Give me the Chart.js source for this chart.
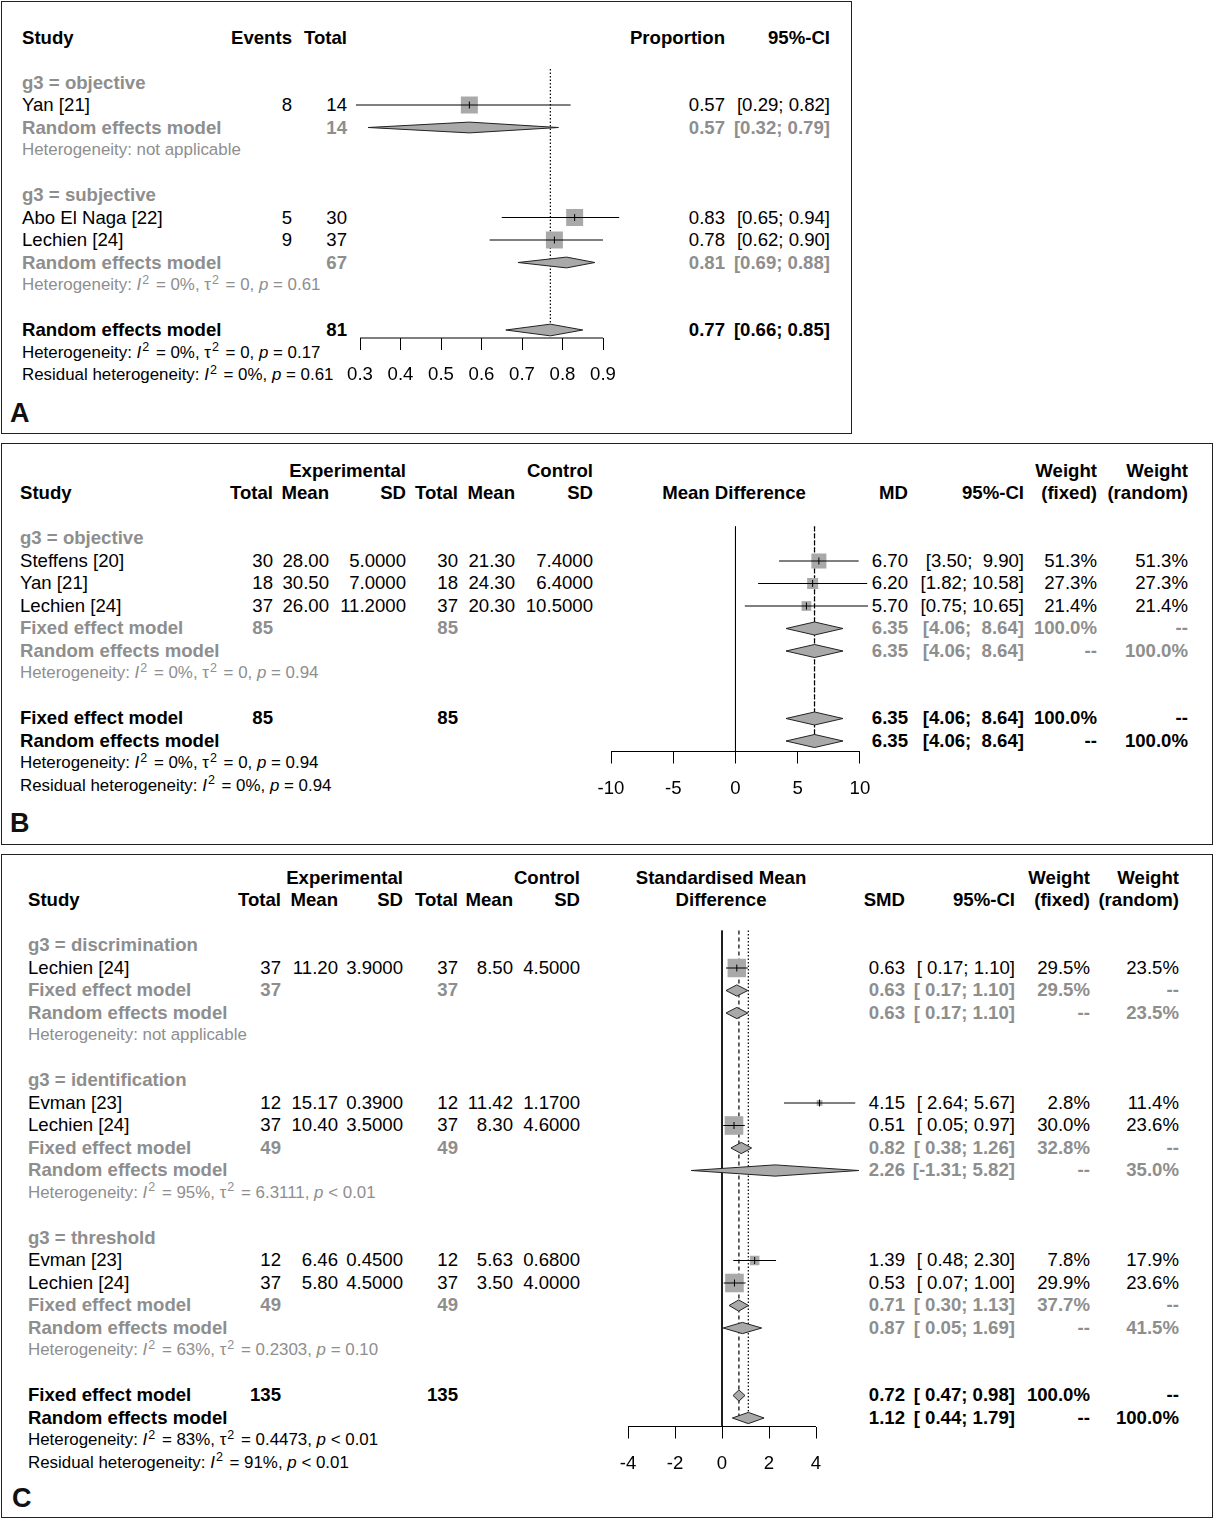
<!DOCTYPE html>
<html>
<head>
<meta charset="utf-8">
<title>Forest plots</title>
<script src="https://cdn.jsdelivr.net/npm/chart.js@4.4.1/dist/chart.umd.min.js"></script>
<style>
  html, body { margin: 0; padding: 0; background: #fff; }
  body { position: relative; width: 1213px; height: 1520px; overflow: hidden;
         font-family: 'Liberation Sans', Arial, Helvetica, sans-serif; }
  .box { position: absolute; border: 1px solid #222; box-sizing: border-box; }
  .t { position: absolute; white-space: pre; line-height: 1; font-size: 18.6px; color: #000; }
  .b { font-weight: bold; }
  .g { color: #8e8e8e; }
  .h { font-size: 16.9px; }
  .t sup { font-size: 0.74em; position: relative; top: -0.5em; vertical-align: baseline; line-height: 0; margin: 0 2px 0 1px; }
  .letter { font-size: 27px; font-weight: bold; color: #111; }
  .plot { position: absolute; }
</style>
</head>
<body>
<div class="box" style="left:1px; top:1px; width:851px; height:433px"></div>
<div class="box" style="left:1px; top:443px; width:1212px; height:402px"></div>
<div class="box" style="left:1px; top:854px; width:1212px; height:664px"></div>
<script>
// ---------- Panel A: proportions
const aGroups = ['objective', 'subjective'];
const aStudies = ['Yan [21]', 'Abo El Naga [22]', 'Lechien [24]'];
const aStudyGroup = [0, 1, 1];
const aEvents = [8, 5, 9];
const aTotals = [14, 30, 37];
const aProp = [0.57, 0.83, 0.78];
const aLower = [0.29, 0.65, 0.62];
const aUpper = [0.82, 0.94, 0.90];
const aSubTotals = [14, 67];
const aSubRandom = [[0.57, 0.32, 0.79], [0.81, 0.69, 0.88]];   // estimate, lower, upper
const aSubHet = [null, { i2: '0%', tau2: '0', p: '= 0.61' }];
const aOverallTotal = 81;
const aOverallRandom = [0.77, 0.66, 0.85];
const aOverallHet = { i2: '0%', tau2: '0', p: '= 0.17' };
const aResidualHet = { i2: '0%', p: '= 0.61' };
const aTicks = [0.3, 0.4, 0.5, 0.6, 0.7, 0.8, 0.9];
const aTickLabels = ['0.3', '0.4', '0.5', '0.6', '0.7', '0.8', '0.9'];

// ---------- Panel B: mean difference
const bGroups = ['objective'];
const bStudies = ['Steffens [20]', 'Yan [21]', 'Lechien [24]'];
const bStudyGroup = [0, 0, 0];
const bExpTotal = [30, 18, 37];
const bExpMean = [28.00, 30.50, 26.00];
const bExpSD = [5.0, 7.0, 11.2];
const bCtlTotal = [30, 18, 37];
const bCtlMean = [21.30, 24.30, 20.30];
const bCtlSD = [7.4, 6.4, 10.5];
const bEst = [6.70, 6.20, 5.70];
const bLower = [3.50, 1.82, 0.75];
const bUpper = [9.90, 10.58, 10.65];
const bWFixed = [51.3, 27.3, 21.4];
const bWRandom = [51.3, 27.3, 21.4];
const bSubTotals = [[85, 85]];
const bSubFixed = [[6.35, 4.06, 8.64, 100.0]];    // estimate, lower, upper, weight
const bSubRandom = [[6.35, 4.06, 8.64, 100.0]];
const bSubHet = [{ i2: '0%', tau2: '0', p: '= 0.94' }];
const bOverallTotals = [85, 85];
const bOverallFixed = [6.35, 4.06, 8.64, 100.0];
const bOverallRandom = [6.35, 4.06, 8.64, 100.0];
const bOverallHet = { i2: '0%', tau2: '0', p: '= 0.94' };
const bResidualHet = { i2: '0%', p: '= 0.94' };
const bTicks = [-10, -5, 0, 5, 10];
const bTickLabels = ['-10', '-5', '0', '5', '10'];

// ---------- Panel C: standardised mean difference
const cGroups = ['discrimination', 'identification', 'threshold'];
const cStudies = ['Lechien [24]', 'Evman [23]', 'Lechien [24]', 'Evman [23]', 'Lechien [24]'];
const cStudyGroup = [0, 1, 1, 2, 2];
const cExpTotal = [37, 12, 37, 12, 37];
const cExpMean = [11.20, 15.17, 10.40, 6.46, 5.80];
const cExpSD = [3.9, 0.39, 3.5, 0.45, 4.5];
const cCtlTotal = [37, 12, 37, 12, 37];
const cCtlMean = [8.50, 11.42, 8.30, 5.63, 3.50];
const cCtlSD = [4.5, 1.17, 4.6, 0.68, 4.0];
const cEst = [0.63, 4.15, 0.51, 1.39, 0.53];
const cLower = [0.17, 2.64, 0.05, 0.48, 0.07];
const cUpper = [1.10, 5.67, 0.97, 2.30, 1.00];
const cWFixed = [29.5, 2.8, 30.0, 7.8, 29.9];
const cWRandom = [23.5, 11.4, 23.6, 17.9, 23.6];
const cSubTotals = [[37, 37], [49, 49], [49, 49]];
const cSubFixed = [[0.63, 0.17, 1.10, 29.5], [0.82, 0.38, 1.26, 32.8], [0.71, 0.30, 1.13, 37.7]];
const cSubRandom = [[0.63, 0.17, 1.10, 23.5], [2.26, -1.31, 5.82, 35.0], [0.87, 0.05, 1.69, 41.5]];
const cSubHet = [null, { i2: '95%', tau2: '6.3111', p: '< 0.01' }, { i2: '63%', tau2: '0.2303', p: '= 0.10' }];
const cOverallTotals = [135, 135];
const cOverallFixed = [0.72, 0.47, 0.98, 100.0];
const cOverallRandom = [1.12, 0.44, 1.79, 100.0];
const cOverallHet = { i2: '83%', tau2: '0.4473', p: '< 0.01' };
const cResidualHet = { i2: '91%', p: '< 0.01' };
const cTicks = [-4, -2, 0, 2, 4];
const cTickLabels = ['-4', '-2', '0', '2', '4'];

const ROW = 22.5;
const INK = '#000';
const GREY = '#a9a9a9';

Chart.defaults.font.family = "'Liberation Sans', Arial, sans-serif";
Chart.defaults.font.size = 18.6;
Chart.defaults.color = INK;

// text helper, align: l / r / c
function put(x, y, html, cls, align) {
  const d = document.createElement('div');
  d.className = 't ' + (cls || '');
  d.innerHTML = String(html);
  d.style.left = x + 'px';
  d.style.top = y + 'px';
  const tx = align === 'r' ? '-100%' : align === 'c' ? '-50%' : '0';
  d.style.transform = 'translate(' + tx + ', -50%)';
  document.body.appendChild(d);
}

function hetHtml(h, prefix) {
  if (!h) return 'Heterogeneity: not applicable';
  let s = (prefix || 'Heterogeneity') + ': <i>I</i><sup>2</sup> = ' + h.i2;
  if (h.tau2 !== undefined) s += ', \u03c4<sup>2</sup> = ' + h.tau2;
  return s + ', <i>p</i> ' + h.p;
}

function ciFormatter(los, his) {
  const wl = Math.max(...los.map(v => v.toFixed(2).length));
  const wh = Math.max(...his.map(v => v.toFixed(2).length));
  return (lo, hi) => '[' + lo.toFixed(2).padStart(wl) + '; ' + hi.toFixed(2).padStart(wh) + ']';
}
const pct = w => w.toFixed(1) + '%';

function layoutRows(nGroups, groupOf, nPool) {
  const L = { head: [], study: [], pool: [], het: [], all: [] };
  let r = 0;
  for (let g = 0; g < nGroups; g++) {
    L.head[g] = r++;
    groupOf.forEach((sg, i) => { if (sg === g) L.study[i] = r++; });
    L.pool[g] = [];
    for (let k = 0; k < nPool; k++) L.pool[g].push(r++);
    L.het[g] = r++;
    r++;
  }
  for (let k = 0; k < nPool; k++) L.all.push(r++);
  L.allHet = r++;
  L.resid = r++;
  return L;
}

// ---- dataset builders
function vline(x, r0, r1, dash, width) {
  return { data: [{ x: x, y: r0 }, { x: x, y: r1 }], borderColor: INK, borderWidth: width || 1,
           borderDash: dash, pointRadius: 0, clip: false, order: 9 };
}
function hline(x0, x1, r) {
  return { data: [{ x: x0, y: r }, { x: x1, y: r }], borderColor: INK, borderWidth: 1,
           pointRadius: 0, clip: false, order: 2 };
}
function squares(xs, rows, sides) {
  return { data: xs.map((x, i) => ({ x: x, y: rows[i] })), showLine: false, pointStyle: 'rect',
           pointRadius: sides.map(s => s / Math.SQRT2), pointBackgroundColor: GREY,
           pointBorderWidth: 0, clip: false, order: 3 };
}
function marks(xs, rows) {
  return { data: xs.map((x, i) => ({ x: x, y: rows[i] })), showLine: false, pointStyle: 'line',
           pointRotation: 90, pointRadius: 3.5, pointBorderColor: INK, pointBorderWidth: 1,
           clip: false, order: 1 };
}
function diamond(est, lo, hi, r, hh) {
  return { data: [{ x: lo, y: r }, { x: est, y: r - hh }, { x: hi, y: r }, { x: est, y: r + hh }, { x: lo, y: r }],
           fill: 'shape', backgroundColor: GREY, borderColor: '#222', borderWidth: 1,
           pointRadius: 0, clip: false, order: 2 };
}

// one chart per panel, chart area placed on the page in pixels
function forestChart(spec) {
  const pad = 40, axisH = 50;
  const w = (spec.xMax - spec.xMin) * spec.ppu;
  const h = (spec.rAxis + 1) * ROW;
  const wrap = document.createElement('div');
  wrap.className = 'plot';
  wrap.style.left = (spec.x0 - pad) + 'px';
  wrap.style.top = (spec.y0 - ROW) + 'px';
  wrap.style.width = (w + 2 * pad) + 'px';
  wrap.style.height = (h + axisH) + 'px';
  const cv = document.createElement('canvas');
  wrap.appendChild(cv);
  document.body.appendChild(wrap);
  spec.datasets.push(hline(spec.ticks[0], spec.ticks[spec.ticks.length - 1], spec.rAxis));
  return new Chart(cv, {
    type: 'line',
    data: { datasets: spec.datasets },
    options: {
      responsive: true,
      maintainAspectRatio: false,
      animation: false,
      events: [],
      layout: { autoPadding: false, padding: { left: pad, right: pad, top: 0, bottom: 0 } },
      plugins: { legend: { display: false }, tooltip: { enabled: false } },
      scales: {
        x: {
          type: 'linear', min: spec.xMin, max: spec.xMax,
          border: { display: false },
          grid: { drawOnChartArea: false, drawTicks: true, tickLength: 12, color: INK, lineWidth: 1 },
          ticks: { padding: 14, maxRotation: 0, autoSkip: false, color: INK,
                   callback: (v, i) => spec.tickLabels[i] },
          afterBuildTicks: s => { s.ticks = spec.ticks.map(v => ({ value: v })); },
          afterFit: s => { s.height = axisH; }
        },
        y: { type: 'linear', display: false, reverse: true, min: -1, max: spec.rAxis }
      }
    }
  });
}

// ---------- draw panel A
(function () {
  const y0 = 82.5, lx = 22;
  const y = r => y0 + ROW * r;
  const L = layoutRows(aGroups.length, aStudyGroup, 1);
  const col = { ev: 292, tot: 347, est: 725, ci: 830 };
  const ci = ciFormatter(aLower.concat(aSubRandom.map(s => s[1]), [aOverallRandom[1]]),
                         aUpper.concat(aSubRandom.map(s => s[2]), [aOverallRandom[2]]));
  put(lx, y(-2), 'Study', 'b');
  put(col.ev, y(-2), 'Events', 'b', 'r');
  put(col.tot, y(-2), 'Total', 'b', 'r');
  put(col.est, y(-2), 'Proportion', 'b', 'r');
  put(col.ci, y(-2), '95%-CI', 'b', 'r');

  aStudies.forEach((s, i) => {
    const r = L.study[i];
    put(lx, y(r), s);
    put(col.ev, y(r), aEvents[i], '', 'r');
    put(col.tot, y(r), aTotals[i], '', 'r');
    put(col.est, y(r), aProp[i].toFixed(2), '', 'r');
    put(col.ci, y(r), ci(aLower[i], aUpper[i]), '', 'r');
  });
  aGroups.forEach((g, gi) => {
    const r = L.pool[gi][0];
    put(lx, y(L.head[gi]), 'g3 = ' + g, 'b g');
    put(lx, y(r), 'Random effects model', 'b g');
    put(col.tot, y(r), aSubTotals[gi], 'b g', 'r');
    put(col.est, y(r), aSubRandom[gi][0].toFixed(2), 'b g', 'r');
    put(col.ci, y(r), ci(aSubRandom[gi][1], aSubRandom[gi][2]), 'b g', 'r');
    put(lx, y(L.het[gi]), hetHtml(aSubHet[gi]), 'h g');
  });
  const ra = L.all[0];
  put(lx, y(ra), 'Random effects model', 'b');
  put(col.tot, y(ra), aOverallTotal, 'b', 'r');
  put(col.est, y(ra), aOverallRandom[0].toFixed(2), 'b', 'r');
  put(col.ci, y(ra), ci(aOverallRandom[1], aOverallRandom[2]), 'b', 'r');
  put(lx, y(L.allHet), hetHtml(aOverallHet), 'h');
  put(lx, y(L.resid), hetHtml(aResidualHet, 'Residual heterogeneity'), 'h');
  put(10, 413, 'A', 'letter');

  const rAxis = (338 - y0) / ROW;
  const ds = [];
  ds.push(vline(aOverallRandom[0], -0.6, ra, [1.5, 2], 1.2));
  ds.push(squares(aProp, L.study, aProp.map(() => 17)));
  aProp.forEach((e, i) => ds.push(hline(aLower[i], aUpper[i], L.study[i])));
  ds.push(marks(aProp, L.study));
  aSubRandom.forEach((s, gi) => ds.push(diamond(s[0], s[1], s[2], L.pool[gi][0], 0.24)));
  ds.push(diamond(aOverallRandom[0], aOverallRandom[1], aOverallRandom[2], ra, 0.26));
  forestChart({ x0: 360, ppu: 405, xMin: 0.3, xMax: 0.96, y0: y0, rAxis: rAxis,
                ticks: aTicks, tickLabels: aTickLabels, datasets: ds });
})();

// ---------- panels B and C share the same layout
function contPanel(d, P) {
  const y = r => P.y0 + ROW * r;
  const L = layoutRows(d.groups.length, d.studyGroup, 2);
  const c = P.cols;
  const lx = P.lx;
  const ci = ciFormatter(
    d.lower.concat(d.subFixed.map(s => s[1]), d.subRandom.map(s => s[1]), [d.allFixed[1], d.allRandom[1]]),
    d.upper.concat(d.subFixed.map(s => s[2]), d.subRandom.map(s => s[2]), [d.allFixed[2], d.allRandom[2]]));

  put(c[2], y(-3), 'Experimental', 'b', 'r');
  put(c[5], y(-3), 'Control', 'b', 'r');
  put(c[8], y(-3), 'Weight', 'b', 'r');
  put(c[9], y(-3), 'Weight', 'b', 'r');
  put(lx, y(-2), 'Study', 'b');
  ['Total', 'Mean', 'SD', 'Total', 'Mean', 'SD'].forEach((h, i) => put(c[i], y(-2), h, 'b', 'r'));
  P.title.forEach((t, i) => put(P.titleX, y(-1 - P.title.length + i), t, 'b', 'c'));
  put(c[6], y(-2), d.estName, 'b', 'r');
  put(c[7], y(-2), '95%-CI', 'b', 'r');
  put(c[8], y(-2), '(fixed)', 'b', 'r');
  put(c[9], y(-2), '(random)', 'b', 'r');

  d.studies.forEach((s, i) => {
    const r = L.study[i];
    put(lx, y(r), s);
    put(c[0], y(r), d.expN[i], '', 'r');
    put(c[1], y(r), d.expMean[i].toFixed(2), '', 'r');
    put(c[2], y(r), d.expSD[i].toFixed(4), '', 'r');
    put(c[3], y(r), d.ctlN[i], '', 'r');
    put(c[4], y(r), d.ctlMean[i].toFixed(2), '', 'r');
    put(c[5], y(r), d.ctlSD[i].toFixed(4), '', 'r');
    put(c[6], y(r), d.est[i].toFixed(2), '', 'r');
    put(c[7], y(r), ci(d.lower[i], d.upper[i]), '', 'r');
    put(c[8], y(r), pct(d.wFixed[i]), '', 'r');
    put(c[9], y(r), pct(d.wRandom[i]), '', 'r');
  });

  function pooledRow(r, name, totals, v, fixed, cls) {
    put(lx, y(r), name, cls);
    if (totals) {
      put(c[0], y(r), totals[0], cls, 'r');
      put(c[3], y(r), totals[1], cls, 'r');
    }
    put(c[6], y(r), v[0].toFixed(2), cls, 'r');
    put(c[7], y(r), ci(v[1], v[2]), cls, 'r');
    put(c[8], y(r), fixed ? pct(v[3]) : '--', cls, 'r');
    put(c[9], y(r), fixed ? '--' : pct(v[3]), cls, 'r');
  }
  d.groups.forEach((g, gi) => {
    put(lx, y(L.head[gi]), 'g3 = ' + g, 'b g');
    pooledRow(L.pool[gi][0], 'Fixed effect model', d.subTotals[gi], d.subFixed[gi], true, 'b g');
    pooledRow(L.pool[gi][1], 'Random effects model', null, d.subRandom[gi], false, 'b g');
    put(lx, y(L.het[gi]), hetHtml(d.subHet[gi]), 'h g');
  });
  pooledRow(L.all[0], 'Fixed effect model', d.allTotals, d.allFixed, true, 'b');
  pooledRow(L.all[1], 'Random effects model', null, d.allRandom, false, 'b');
  put(lx, y(L.allHet), hetHtml(d.allHet), 'h');
  put(lx, y(L.resid), hetHtml(d.residHet, 'Residual heterogeneity'), 'h');
  put(P.letterX, P.letterY, P.letter, 'letter');

  const rAxis = (P.axisY - P.y0) / ROW;
  const top = (P.lineTop - P.y0) / ROW;
  const ds = [];
  ds.push(vline(0, top, rAxis, []));
  ds.push(vline(d.allFixed[0], top, L.all[1], [4, 3], 1.2));
  ds.push(vline(d.allRandom[0], top, L.all[1], [1.5, 2], 1.2));
  ds.push(squares(d.est, L.study, d.wFixed.map(w => P.sq * Math.sqrt(w))));
  d.est.forEach((e, i) => ds.push(hline(d.lower[i], d.upper[i], L.study[i])));
  ds.push(marks(d.est, L.study));
  d.groups.forEach((g, gi) => {
    const f = d.subFixed[gi], rr = d.subRandom[gi];
    ds.push(diamond(f[0], f[1], f[2], L.pool[gi][0], P.dh));
    ds.push(diamond(rr[0], rr[1], rr[2], L.pool[gi][1], P.dh));
  });
  ds.push(diamond(d.allFixed[0], d.allFixed[1], d.allFixed[2], L.all[0], P.dh));
  ds.push(diamond(d.allRandom[0], d.allRandom[1], d.allRandom[2], L.all[1], P.dh));
  forestChart({ x0: P.x0, ppu: P.ppu, xMin: P.xMin, xMax: P.xMax, y0: P.y0, rAxis: rAxis,
                ticks: P.ticks, tickLabels: P.tickLabels, datasets: ds });
}

contPanel({
  groups: bGroups, studies: bStudies, studyGroup: bStudyGroup,
  expN: bExpTotal, expMean: bExpMean, expSD: bExpSD,
  ctlN: bCtlTotal, ctlMean: bCtlMean, ctlSD: bCtlSD,
  est: bEst, lower: bLower, upper: bUpper, wFixed: bWFixed, wRandom: bWRandom,
  subTotals: bSubTotals, subFixed: bSubFixed, subRandom: bSubRandom, subHet: bSubHet,
  allTotals: bOverallTotals, allFixed: bOverallFixed, allRandom: bOverallRandom,
  allHet: bOverallHet, residHet: bResidualHet, estName: 'MD'
}, {
  y0: 538, lx: 20, cols: [273, 329, 406, 458, 515, 593, 908, 1024, 1097, 1188],
  title: ['Mean Difference'], titleX: 734, letter: 'B', letterX: 10, letterY: 823,
  x0: 611, ppu: 12.45, xMin: -10, xMax: 11, axisY: 751, lineTop: 526,
  ticks: bTicks, tickLabels: bTickLabels, sq: 2.1, dh: 0.29
});

contPanel({
  groups: cGroups, studies: cStudies, studyGroup: cStudyGroup,
  expN: cExpTotal, expMean: cExpMean, expSD: cExpSD,
  ctlN: cCtlTotal, ctlMean: cCtlMean, ctlSD: cCtlSD,
  est: cEst, lower: cLower, upper: cUpper, wFixed: cWFixed, wRandom: cWRandom,
  subTotals: cSubTotals, subFixed: cSubFixed, subRandom: cSubRandom, subHet: cSubHet,
  allTotals: cOverallTotals, allFixed: cOverallFixed, allRandom: cOverallRandom,
  allHet: cOverallHet, residHet: cResidualHet, estName: 'SMD'
}, {
  y0: 945, lx: 28, cols: [281, 338, 403, 458, 513, 580, 905, 1015, 1090, 1179],
  title: ['Standardised Mean', 'Difference'], titleX: 721, letter: 'C', letterX: 12, letterY: 1498,
  x0: 628, ppu: 23.5, xMin: -4, xMax: 6, axisY: 1426, lineTop: 930,
  ticks: cTicks, tickLabels: cTickLabels, sq: 3.4, dh: 0.25
});
</script>
</body>
</html>
